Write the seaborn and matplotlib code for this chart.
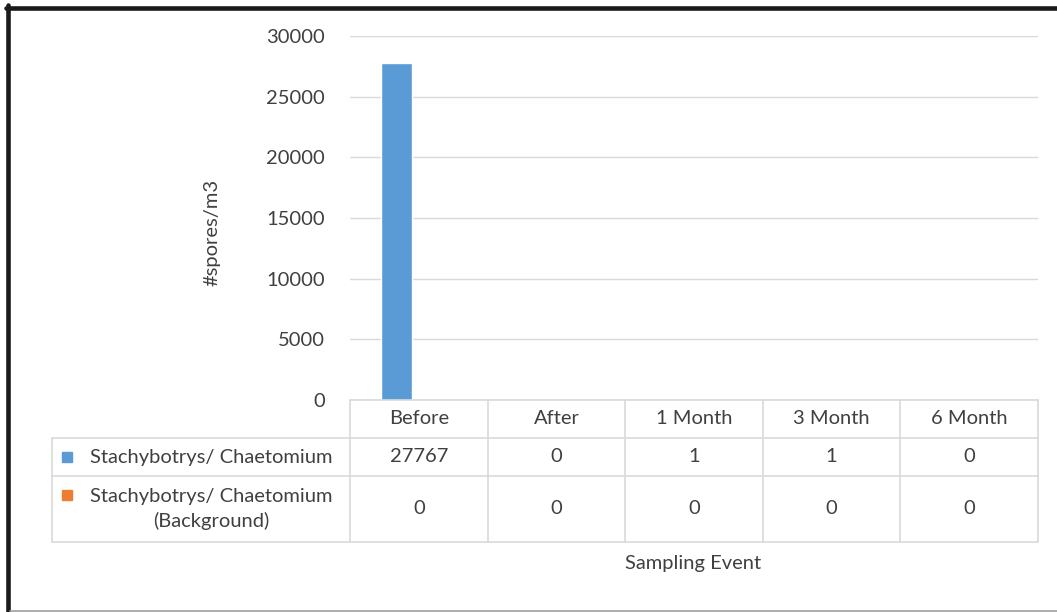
import matplotlib.pyplot as plt
import pandas as pd
import seaborn as sns
from matplotlib.patches import Rectangle

# Data
EVENTS = ["Before", "After", "1 Month", "3 Month", "6 Month"]
SERIES = ["Stachybotrys/ Chaetomium", "Stachybotrys/ Chaetomium\n(Background)"]
SPORES = [27767, 0, 1, 1, 0]
BACKGROUND = [0, 0, 0, 0, 0]
Y_TICKS = [0, 5000, 10000, 15000, 20000, 25000, 30000]

COLORS = ["#5B9BD5", "#ED7D31"]
TEXT = "#404040"
GRID = "#D9D9D9"
FS = 14.5

df = pd.DataFrame({
    "event": EVENTS * 2,
    "series": [SERIES[0]] * len(EVENTS) + [SERIES[1]] * len(EVENTS),
    "value": SPORES + BACKGROUND,
})

sns.set_style("white")
plt.rcParams["font.family"] = ["Lato", "DejaVu Sans"]

W, H = 1057, 612
fig = plt.figure(figsize=(W / 100, H / 100), dpi=100)
ax = fig.add_axes([350 / W, (H - 400) / H, 688 / W, 364 / H])

sns.barplot(
    data=df, x="event", y="value", hue="series", order=EVENTS,
    hue_order=SERIES, palette=COLORS, width=0.61, gap=0.26,
    saturation=1, legend=False, ax=ax,
)

ax.set_ylim(0, 30000)
ax.set_yticks(Y_TICKS)
ax.set_yticklabels([str(t) for t in Y_TICKS], color=TEXT, fontsize=FS)
ax.tick_params(axis="y", length=0, pad=18)
ax.set_xticks([])
ax.set_xlabel("")
ax.set_ylabel("#spores/m3", color=TEXT, fontsize=FS)
ax.yaxis.set_label_coords(-0.188, 0.46)
ax.grid(axis="y", color=GRID, linewidth=1)
ax.set_axisbelow(True)
for s in ax.spines.values():
    s.set_visible(False)

# Data table below the plot (axes coords: x 0..1 spans the categories)
n = len(EVENTS)
px = 1 / 364  # one pixel vertically in axes units
row_edges = [0, -38 * px, -76 * px, -142 * px]
left = (52 - 350) / 688
kw = dict(color=GRID, linewidth=1.2, clip_on=False, transform=ax.transAxes)

# horizontal lines
ax.plot([0, 1], [row_edges[0]] * 2, **kw)
for y in row_edges[1:]:
    ax.plot([left, 1], [y, y], **kw)
# vertical lines
for i in range(n + 1):
    ax.plot([i / n, i / n], [row_edges[0], row_edges[-1]], **kw)
ax.plot([left, left], [row_edges[1], row_edges[-1]], **kw)

tkw = dict(transform=ax.transAxes, ha="center", va="center",
           color=TEXT, fontsize=FS, clip_on=False)
for i, ev in enumerate(EVENTS):
    xc = (i + 0.5) / n
    ax.text(xc, (row_edges[0] + row_edges[1]) / 2, ev, **tkw)
    ax.text(xc, (row_edges[1] + row_edges[2]) / 2, str(SPORES[i]), **tkw)
    ax.text(xc, (row_edges[2] + row_edges[3]) / 2, str(BACKGROUND[i]), **tkw)

# row labels with legend keys
label_x = (211 - 350) / 688
ax.text(label_x, (row_edges[1] + row_edges[2]) / 2, SERIES[0], **tkw)
ax.text(label_x, (row_edges[2] + row_edges[3]) / 2, SERIES[1],
        linespacing=1.45, **tkw)
key = 10 / 688
key_y = [(row_edges[1] + row_edges[2]) / 2, row_edges[2] - 19 * px]
for c, yk in zip(COLORS, key_y):
    ax.add_patch(Rectangle((left + 10 / 688, yk - 5 * px), key, 10 * px,
                           color=c, transform=ax.transAxes, clip_on=False))

fig.text(693 / W, 1 - 563 / H, "Sampling Event", ha="center", va="center",
         color=TEXT, fontsize=FS)

# outer frame like the screenshot: dark left/top, thin grey bottom
fig.add_artist(plt.Line2D([8 / W, 8 / W], [0, 1 - 5 / H], color="#1a1a1a",
                          linewidth=3.3, transform=fig.transFigure))
fig.add_artist(plt.Line2D([6 / W, 1], [1 - 7.5 / H, 1 - 7.5 / H],
                          color="#1a1a1a", linewidth=3.3,
                          transform=fig.transFigure))
fig.add_artist(plt.Line2D([10 / W, 1], [1.5 / H, 1.5 / H], color="#a0a0a0",
                          linewidth=1.2, transform=fig.transFigure))

fig.savefig("out.png", dpi=100)
